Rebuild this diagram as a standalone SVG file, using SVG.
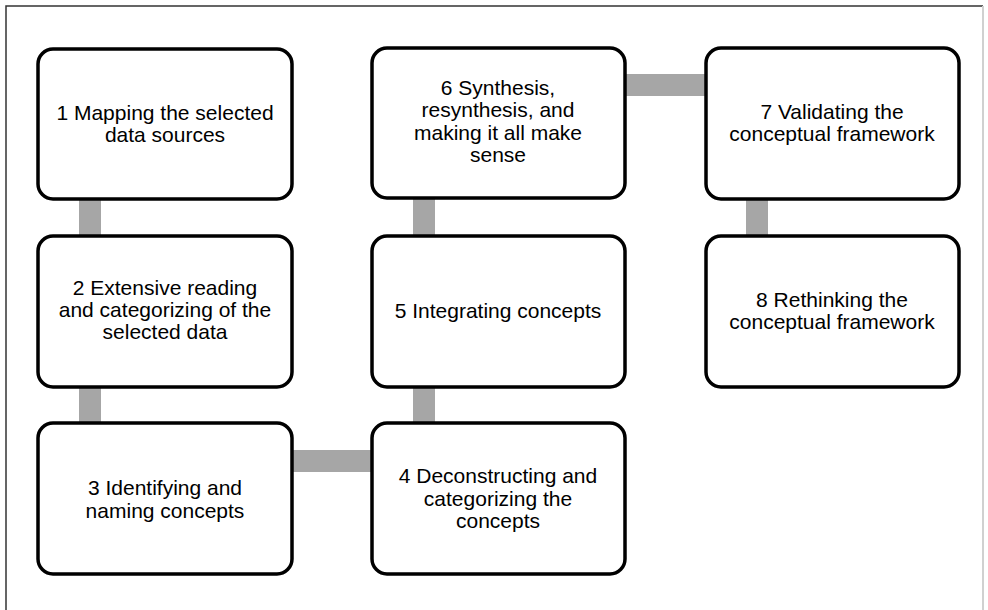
<svg xmlns="http://www.w3.org/2000/svg" width="988" height="610" viewBox="0 0 988 610">
<style>
.box{fill:#fff;stroke:#000;stroke-width:3.5}
.con{stroke:#a6a6a6;stroke-width:22;fill:none}
text{font-family:"Liberation Sans",Arial,sans-serif;font-size:21px;fill:#000;text-anchor:middle}
</style>
<rect width="988" height="610" fill="#fff"/>
<path d="M6,615 V6 H983" fill="none" stroke="#333" stroke-width="1.5"/>
<path d="M983,6 V610" fill="none" stroke="#d0d0d0" stroke-width="2"/>
<g id="connectors">
<line class="con" x1="90" y1="199" x2="90" y2="236"/>
<line class="con" x1="90" y1="387" x2="90" y2="423"/>
<line class="con" x1="292" y1="461" x2="372" y2="461"/>
<line class="con" x1="424" y1="387" x2="424" y2="423"/>
<line class="con" x1="424" y1="198" x2="424" y2="236"/>
<line class="con" x1="625" y1="85" x2="706" y2="85"/>
<line class="con" x1="757" y1="199" x2="757" y2="236"/>
</g>
<g id="n1"><rect class="box" x="38" y="49" width="254" height="150" rx="15"/>
<text x="165" y="120">1 Mapping the selected</text><text x="165" y="142">data sources</text></g>
<g id="n2"><rect class="box" x="38" y="236" width="254" height="151" rx="15"/>
<text x="165" y="295">2 Extensive reading</text><text x="165" y="317">and categorizing of the</text><text x="165" y="339">selected data</text></g>
<g id="n3"><rect class="box" x="38" y="423" width="254" height="151" rx="15"/>
<text x="165" y="495">3 Identifying and</text><text x="165" y="518">naming concepts</text></g>
<g id="n4"><rect class="box" x="372" y="423" width="253" height="151" rx="15"/>
<text x="498" y="483">4 Deconstructing and</text><text x="498" y="506">categorizing the</text><text x="498" y="528">concepts</text></g>
<g id="n5"><rect class="box" x="372" y="236" width="253" height="151" rx="15"/>
<text x="498" y="318">5 Integrating concepts</text></g>
<g id="n6"><rect class="box" x="372" y="48" width="253" height="150" rx="15"/>
<text x="498" y="95">6 Synthesis,</text><text x="498" y="117">resynthesis, and</text><text x="498" y="140">making it all make</text><text x="498" y="162">sense</text></g>
<g id="n7"><rect class="box" x="706" y="48" width="253" height="151" rx="15"/>
<text x="832" y="119">7 Validating the</text><text x="832" y="141">conceptual framework</text></g>
<g id="n8"><rect class="box" x="706" y="236" width="253" height="151" rx="15"/>
<text x="832" y="307">8 Rethinking the</text><text x="832" y="329">conceptual framework</text></g>
</svg>
